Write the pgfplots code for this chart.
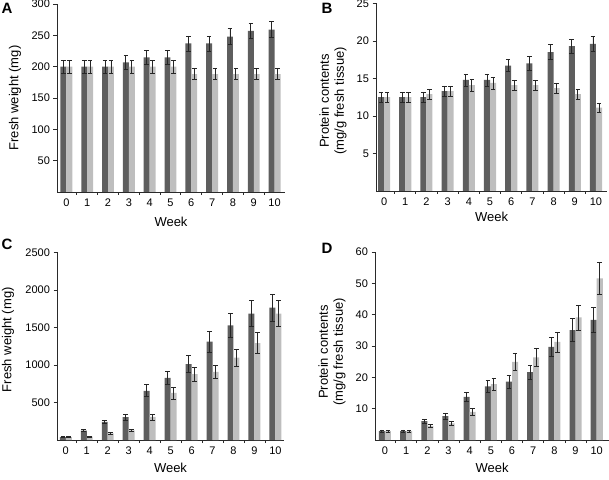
\documentclass[border=0pt]{standalone}
\usepackage{pgfplots}
\pgfplotsset{compat=1.18}
\usepackage{pgfplotstable}
\usepackage{fontspec}
\setmainfont{Liberation Sans}

\definecolor{darkbar}{HTML}{5E5E5E}
\definecolor{lightbar}{HTML}{BEBEBE}
\definecolor{axcol}{HTML}{2A2A2A}

\pgfplotstableread{
x d de l le
0 200 10 200 10
1 200 10 200 10
2 200 10 200 10
3 207 11 200 10
4 215 11 200 10
5 215 11 200 10
6 237 12 188 9
7 237 12 188 9
8 248 13 188 9
9 257 12 188 9
10 259 13 188 9
}\tabA

\pgfplotstableread{
x d de l le
0 12.5 0.7 12.5 0.7
1 12.5 0.7 12.5 0.7
2 12.5 0.7 12.9 0.7
3 13.3 0.7 13.3 0.7
4 14.8 0.8 14.1 0.8
5 14.8 0.8 14.4 0.8
6 16.7 0.8 14.1 0.7
7 17.0 0.9 14.1 0.7
8 18.5 1.0 13.7 0.7
9 19.3 0.9 12.9 0.7
10 19.6 1.0 11.1 0.6
}\tabB

\pgfplotstableread{
x d de l le
0 40 8 40 5
1 125 12 45 5
2 241 22 89 10
3 304 40 130 15
4 656 80 308 40
5 827 84 627 80
6 1013 110 880 93
7 1311 140 907 85
8 1529 155 1097 116
9 1684 173 1293 138
10 1764 183 1684 173
}\tabC

\pgfplotstableread{
x d de l le
0 2.8 0.4 2.8 0.4
1 2.8 0.4 2.8 0.4
2 6.0 0.7 4.5 0.6
3 7.6 0.9 5.3 0.7
4 13.8 1.4 9.0 1.2
5 17.1 1.8 17.8 2.0
6 18.6 2.0 24.9 2.6
7 21.7 2.2 26.4 2.9
8 29.7 3.1 31.3 3.2
9 35.1 3.7 39.1 4.0
10 38.3 3.9 51.6 5.2
}\tabD

\pgfplotsset{
  panel/.style={
    scale only axis,
    axis x line*=bottom, axis y line*=left,
    axis line style={draw=axcol, line width=0.9pt},
    ymin=0, enlargelimits=false,
    xtick={0,...,10},
    minor xtick={0.5,1.5,...,9.5},
    major x tick style={draw=none},
    minor x tick style={draw=axcol, line width=0.8pt},
    y tick style={draw=axcol, line width=0.8pt},
    tick align=outside,
    major tick length=3.5pt, minor tick length=3pt,
    /pgf/number format/assume math mode=true,
    /pgf/number format/1000 sep={},
    tick label style={font=\fontsize{11}{13}\selectfont, text=black},
    label style={font=\fontsize{13}{15}\selectfont},
    xlabel={Week},
    clip=false,
  },
  ebar/.style={
    error bars/.cd, y dir=both, y explicit,
    error bar style={draw=black!85, line width=0.9pt},
    error mark options={rotate=90, mark size=2.3pt, draw=black!85, line width=0.8pt}},
  dbar/.style={ybar, bar width=0.285, bar shift=0pt, fill=darkbar, draw=none, ebar},
  lbar/.style={ybar, bar width=0.285, bar shift=0pt, fill=lightbar, draw=none, ebar},
}

\begin{document}
\begin{tikzpicture}
\useasboundingbox (0,0) rectangle (609pt,479pt);

% Panel A
\begin{axis}[panel, at={(57pt,287pt)}, anchor=south west,
  width=228pt, height=188pt, xmin=-0.45, xmax=10.5, ymax=300,
  ytick={50,100,...,300},
  ylabel={Fresh weight (mg)},
  ylabel style={at={(axis description cs:-0.184,0.5)}, anchor=center},
  xlabel style={at={(axis description cs:0.5,0)}, anchor=center, yshift=-30pt}]
\addplot[dbar] table[x expr=\thisrow{x}-0.1425, y=d, y error=de]{\tabA};
\addplot[lbar] table[x expr=\thisrow{x}+0.1425, y=l, y error=le]{\tabA};
\end{axis}

% Panel B
\begin{axis}[panel, at={(376pt,288pt)}, anchor=south west,
  width=231pt, height=187.5pt, xmin=-0.38, xmax=10.52, ymax=25,
  ytick={5,10,...,25},
  ylabel={Protein contents\\(mg/g fresh tissue)},
  ylabel style={at={(axis description cs:-0.186,0.48)}, anchor=center, align=center},
  xlabel style={at={(axis description cs:0.5,0)}, anchor=center, yshift=-26pt}]
\addplot[dbar] table[x expr=\thisrow{x}-0.1425, y=d, y error=de]{\tabB};
\addplot[lbar] table[x expr=\thisrow{x}+0.1425, y=l, y error=le]{\tabB};
\end{axis}

% Panel C
\begin{axis}[panel, at={(57pt,39pt)}, anchor=south west,
  width=227pt, height=187.5pt, xmin=-0.42, xmax=10.41, ymax=2500,
  ytick={500,1000,...,2500},
  ylabel={Fresh weight (mg)},
  ylabel style={at={(axis description cs:-0.216,0.535)}, anchor=center},
  xlabel style={at={(axis description cs:0.5,0)}, anchor=center, yshift=-28pt}]
\addplot[dbar] table[x expr=\thisrow{x}-0.1425, y=d, y error=de]{\tabC};
\addplot[lbar] table[x expr=\thisrow{x}+0.1425, y=l, y error=le]{\tabC};
\end{axis}

% Panel D
\begin{axis}[panel, at={(375pt,39pt)}, anchor=south west,
  width=234pt, height=188pt, xmin=-0.47, xmax=10.58, ymax=60,
  ytick={10,20,...,60},
  ylabel={Protein contents\\(mg/g fresh tissue)},
  ylabel style={at={(axis description cs:-0.184,0.468)}, anchor=center, align=center},
  xlabel style={at={(axis description cs:0.5,0)}, anchor=center, yshift=-28pt}]
\addplot[dbar] table[x expr=\thisrow{x}-0.1425, y=d, y error=de]{\tabD};
\addplot[lbar] table[x expr=\thisrow{x}+0.1425, y=l, y error=le]{\tabD};
\end{axis}

\node[font=\bfseries\fontsize{15}{15}\selectfont] at (7pt,471pt) {A};
\node[font=\bfseries\fontsize{15}{15}\selectfont] at (327pt,471pt) {B};
\node[font=\bfseries\fontsize{15}{15}\selectfont] at (7pt,235pt) {C};
\node[font=\bfseries\fontsize{15}{15}\selectfont] at (327pt,231pt) {D};
\end{tikzpicture}
\end{document}
